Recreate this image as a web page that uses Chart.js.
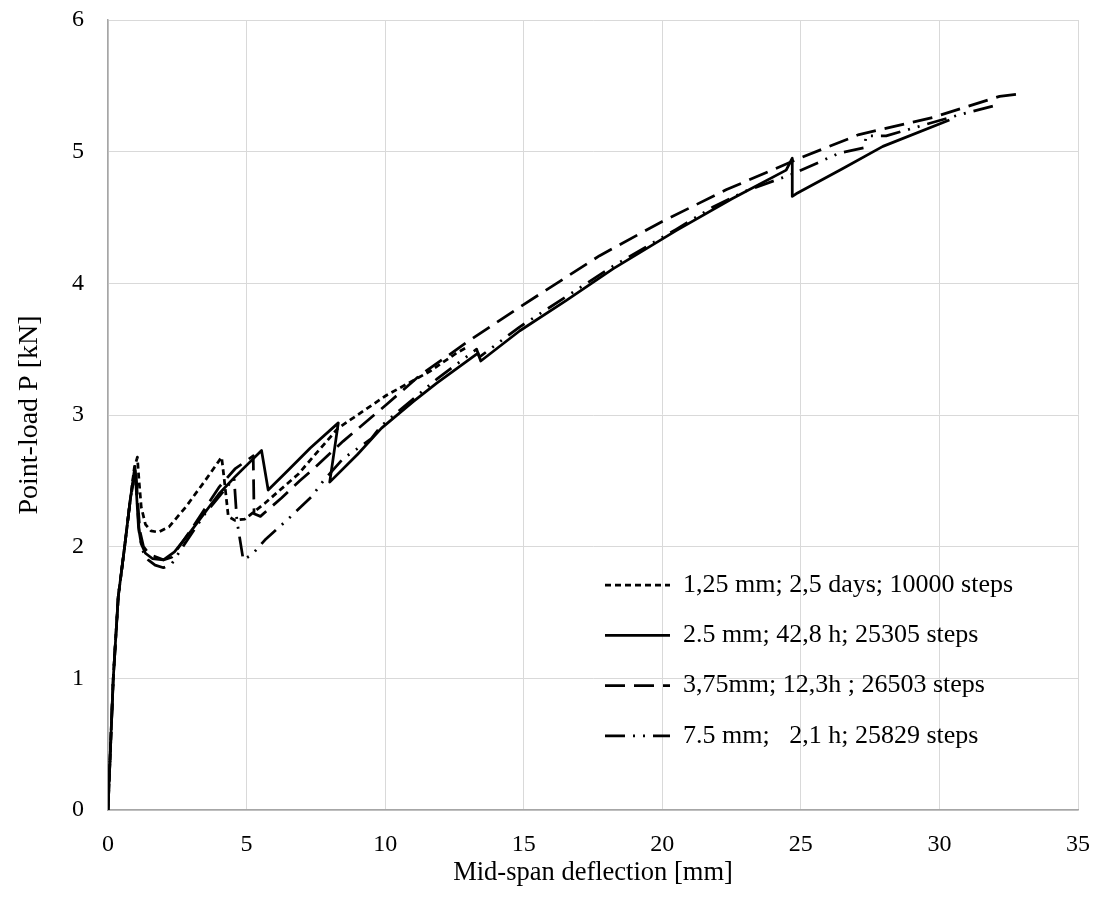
<!DOCTYPE html>
<html>
<head>
<meta charset="utf-8">
<script src="https://cdn.jsdelivr.net/npm/chart.js@4.4.1/dist/chart.umd.min.js"></script>
<style>
  html, body { margin: 0; padding: 0; background: #fff; }
  #wrap { width: 1099px; height: 904px; position: relative; }
</style>
</head>
<body>
<div id="wrap"><canvas id="chart"></canvas></div>
<script>
const FONT = '"Liberation Serif", "Times New Roman", serif';

// tick values
const xTicks = [0, 5, 10, 15, 20, 25, 30, 35];
const yTicks = [0, 1, 2, 3, 4, 5, 6];

// series labels
const labels = [
  '1,25 mm; 2,5 days; 10000 steps',
  '2.5 mm; 42,8 h; 25305 steps',
  '3,75mm; 12,3h ; 26503 steps',
  '7.5 mm;   2,1 h; 25829 steps'
];

// 1,25 mm mesh
const fineX = [0, 0.19, 0.37, 0.6, 0.8, 0.95, 1.06, 1.12, 1.2, 1.35, 1.55, 1.82, 2.2, 2.8, 3.5, 4.1, 4.2, 4.34, 4.58, 4.94, 5.66, 6.86, 8.3, 10.05, 11.6, 12.57, 13.0];
const fineY = [0, 1.0, 1.62, 2.0, 2.35, 2.6, 2.68, 2.5, 2.3, 2.17, 2.12, 2.11, 2.15, 2.3, 2.5, 2.68, 2.5, 2.23, 2.2, 2.21, 2.33, 2.55, 2.9, 3.15, 3.33, 3.47, 3.52];

// 2.5 mm mesh
const midX = [0, 0.19, 0.37, 0.6, 0.8, 0.97, 1.03, 1.1, 1.2, 1.35, 1.6, 2.0, 2.4, 3.0, 4.0, 4.58, 5.54, 5.78, 6.5, 7.3, 8.31, 8.0, 9.0, 9.87, 11.0, 11.85, 13.35, 13.45, 14.86, 16.54, 18.22, 20.5, 22.5, 24.47, 24.69, 24.69, 24.83, 26.5, 27.96, 30.36];
const midY = [0, 1.0, 1.62, 2.0, 2.35, 2.61, 2.4, 2.15, 2.02, 1.95, 1.91, 1.9, 1.96, 2.12, 2.4, 2.53, 2.73, 2.43, 2.58, 2.75, 2.94, 2.49, 2.7, 2.9, 3.1, 3.24, 3.47, 3.41, 3.64, 3.87, 4.11, 4.4, 4.64, 4.86, 4.95, 4.66, 4.68, 4.87, 5.04, 5.24];

// 3,75 mm mesh
const coarseX = [0, 0.19, 0.37, 0.6, 0.8, 1.0, 1.07, 1.15, 1.28, 1.5, 2.0, 2.3, 3.0, 4.0, 4.58, 5.24, 5.27, 5.5, 6.26, 6.92, 7.46, 8.48, 10.05, 11.25, 13.0, 14.86, 17.74, 20.0, 22.3, 24.95, 27.1, 29.76, 32.17, 32.95];
const coarseY = [0, 1.0, 1.62, 2.0, 2.35, 2.59, 2.35, 2.12, 2.0, 1.94, 1.9, 1.92, 2.13, 2.45, 2.59, 2.69, 2.25, 2.23, 2.37, 2.5, 2.6, 2.8, 3.08, 3.3, 3.56, 3.82, 4.21, 4.47, 4.71, 4.95, 5.13, 5.26, 5.42, 5.44];

// 7.5 mm mesh
const wideX = [0, 0.19, 0.37, 0.6, 0.8, 0.98, 1.05, 1.13, 1.25, 1.45, 1.7, 2.0, 2.3, 2.7, 3.5, 4.55, 4.65, 4.88, 5.2, 5.66, 6.5, 7.35, 7.77, 8.49, 8.97, 9.5, 9.87, 11.0, 11.85, 13.3, 13.4, 14.86, 16.54, 18.22, 20.5, 21.83, 23.0, 24.7, 26.4, 27.3, 27.35, 28.08, 30.72, 32.0];
const wideY = [0, 1.0, 1.62, 2.0, 2.35, 2.58, 2.35, 2.1, 1.97, 1.9, 1.86, 1.84, 1.87, 2.0, 2.25, 2.52, 2.2, 1.9, 1.94, 2.05, 2.21, 2.38, 2.5, 2.67, 2.74, 2.82, 2.92, 3.12, 3.27, 3.5, 3.44, 3.67, 3.9, 4.13, 4.41, 4.58, 4.7, 4.83, 4.99, 5.03, 5.12, 5.12, 5.28, 5.35];

function pts(xs, ys) {
  return xs.map((x, i) => ({ x: x, y: ys[i] }));
}

function line(label, xs, ys, dash) {
  return {
    label: label,
    data: pts(xs, ys),
    showLine: true,
    borderColor: '#000',
    borderWidth: 2.75,
    borderDash: dash,
    borderCapStyle: 'butt',
    borderJoinStyle: 'round',
    pointRadius: 0,
    tension: 0,
    fill: false
  };
}

// legend drawn inside the plot, lower right
const insideLegend = {
  id: 'insideLegend',
  afterDatasetsDraw(chart) {
    const { ctx, chartArea } = chart;
    const x0 = chartArea.left + 497;
    const x1 = chartArea.left + 562;
    const tx = chartArea.left + 575;
    let y = chartArea.top + 565;
    chart.data.datasets.forEach(ds => {
      ctx.save();
      ctx.strokeStyle = ds.borderColor;
      ctx.lineWidth = ds.borderWidth;
      ctx.lineCap = 'butt';
      ctx.setLineDash(ds.borderDash || []);
      ctx.beginPath();
      ctx.moveTo(x0, y);
      ctx.lineTo(x1, y);
      ctx.stroke();
      ctx.setLineDash([]);
      ctx.fillStyle = '#000';
      ctx.font = '26px ' + FONT;
      ctx.textBaseline = 'middle';
      ctx.fillText(ds.label, tx, y);
      ctx.restore();
      y += 50.3;
    });
  }
};

new Chart(document.getElementById('chart'), {
  type: 'scatter',
  data: {
    datasets: [
      line(labels[0], fineX, fineY, [6, 4]),
      line(labels[1], midX, midY, []),
      line(labels[2], coarseX, coarseY, [20, 9]),
      line(labels[3], wideX, wideY, [20, 8, 2, 8, 2, 8])
    ]
  },
  options: {
    responsive: true,
    maintainAspectRatio: false,
    animation: false,
    layout: { padding: { top: 20, right: 21, left: 0, bottom: 0 } },
    plugins: {
      legend: { display: false },
      tooltip: { enabled: false }
    },
    scales: {
      x: {
        type: 'linear',
        min: 0,
        max: 35,
        afterBuildTicks: s => { s.ticks = xTicks.map(v => ({ value: v })); },
        afterFit: s => {
          s.height = 94;
          s.paddingLeft = 0;
          s.paddingRight = 0;
        },
        ticks: { color: '#000', font: { family: FONT, size: 24 }, padding: 20, maxRotation: 0 },
        grid: { color: '#d9d9d9', lineWidth: 1, drawTicks: false },
        border: { color: '#a6a6a6', width: 1.5 },
        title: {
          display: true,
          text: 'Mid-span deflection [mm]',
          color: '#000',
          font: { family: FONT, size: 26.5 },
          padding: { top: 0, bottom: 15 }
        }
      },
      y: {
        type: 'linear',
        min: 0,
        max: 6,
        afterBuildTicks: s => { s.ticks = yTicks.map(v => ({ value: v })); },
        afterFit: s => {
          s.width = 108;
          s.paddingTop = 0;
          s.paddingBottom = 0;
        },
        ticks: { color: '#000', font: { family: FONT, size: 24 }, padding: 24 },
        grid: { color: '#d9d9d9', lineWidth: 1, drawTicks: false },
        border: { color: '#a6a6a6', width: 1.5 },
        title: {
          display: true,
          text: 'Point-load P [kN]',
          color: '#000',
          font: { family: FONT, size: 28 },
          padding: { top: 13, bottom: 0 }
        }
      }
    }
  },
  plugins: [insideLegend]
});
</script>
</body>
</html>
